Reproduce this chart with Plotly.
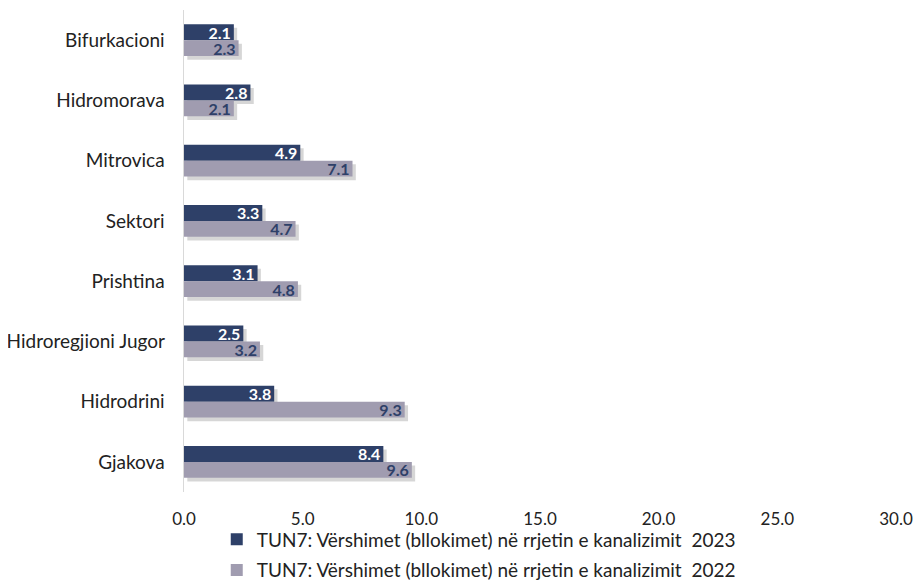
import plotly.graph_objects as go

categories = ["Bifurkacioni", "Hidromorava", "Mitrovica", "Sektori", "Prishtina",
              "Hidroregjioni Jugor", "Hidrodrini", "Gjakova"]
values_2023 = [2.1, 2.8, 4.9, 3.3, 3.1, 2.5, 3.8, 8.4]
values_2022 = [2.3, 2.1, 7.1, 4.7, 4.8, 3.2, 9.3, 9.6]
name_2023 = "TUN7: Vërshimet (bllokimet) në rrjetin e kanalizimit  2023"
name_2022 = "TUN7: Vërshimet (bllokimet) në rrjetin e kanalizimit  2022"
x_ticks = [0, 5, 10, 15, 20, 25, 30]

FONT = "Lato, sans-serif"
NAVY = "#2E4068"
GREY = "#A09CB0"
SHADOW = "rgba(0,0,0,0.16)"
BW = 0.265

fig = go.Figure()
# soft drop shadows (drawn first, behind the bars)
for vals, off in [(values_2023, -BW), (values_2022, 0.0)]:
    fig.add_trace(go.Bar(
        y=categories, x=vals, base=0.14, orientation="h",
        width=BW, offset=off + 0.06, marker=dict(color=SHADOW, line=dict(width=0)),
        showlegend=False, hoverinfo="skip",
    ))

fig.add_trace(go.Bar(
    y=categories, x=values_2023, orientation="h", name=name_2023,
    width=BW, offset=-BW,
    marker=dict(color=NAVY, line=dict(width=0)), legendgroup="a",
    text=[f"{v:.1f}" for v in values_2023], textposition="inside",
    insidetextanchor="end", textangle=0,
    textfont=dict(color="white", size=16, family=FONT, weight="bold"),
    cliponaxis=False,
))
fig.add_trace(go.Bar(
    y=categories, x=values_2022, orientation="h", name=name_2022,
    width=BW, offset=0.0,
    marker=dict(color=GREY, line=dict(width=0)), legendgroup="b",
    text=[f"{v:.1f}" for v in values_2022], textposition="inside",
    insidetextanchor="end", textangle=0,
    textfont=dict(color=NAVY, size=16, family=FONT, weight="bold"),
    cliponaxis=False,
))

fig.update_layout(
    width=908, height=572,
    paper_bgcolor="white", plot_bgcolor="white",
    margin=dict(l=176, r=20, t=2, b=88),
    barmode="overlay",
    font=dict(family=FONT, size=18, color="#222222"),
    uniformtext=dict(mode="show", minsize=16),
    legend=dict(
        orientation="v", x=0.046, y=0.104, xref="paper", yref="container",
        xanchor="left", yanchor="top", bgcolor="rgba(0,0,0,0)",
        traceorder="grouped", tracegroupgap=3,
        font=dict(size=19, family=FONT, color="#222222"),
        itemwidth=30,
    ),
    showlegend=True,
)
fig.update_xaxes(
    range=[0, 30], tickvals=x_ticks, ticktext=[f"{t:.1f}" for t in x_ticks],
    showgrid=False, zeroline=False, showline=False, ticks="",
    ticklabeloverflow="allow", automargin=False, ticklabelstandoff=15,
    tickfont=dict(size=17, family=FONT, color="#222222"),
)
fig.update_yaxes(
    autorange="reversed", showgrid=False, zeroline=False,
    showline=True, linecolor="#D9D9D9", linewidth=1, ticks="",
    ticksuffix="   ", automargin=False,
    tickfont=dict(size=19, family=FONT, color="#222222"),
)

fig.write_html("out.html")
